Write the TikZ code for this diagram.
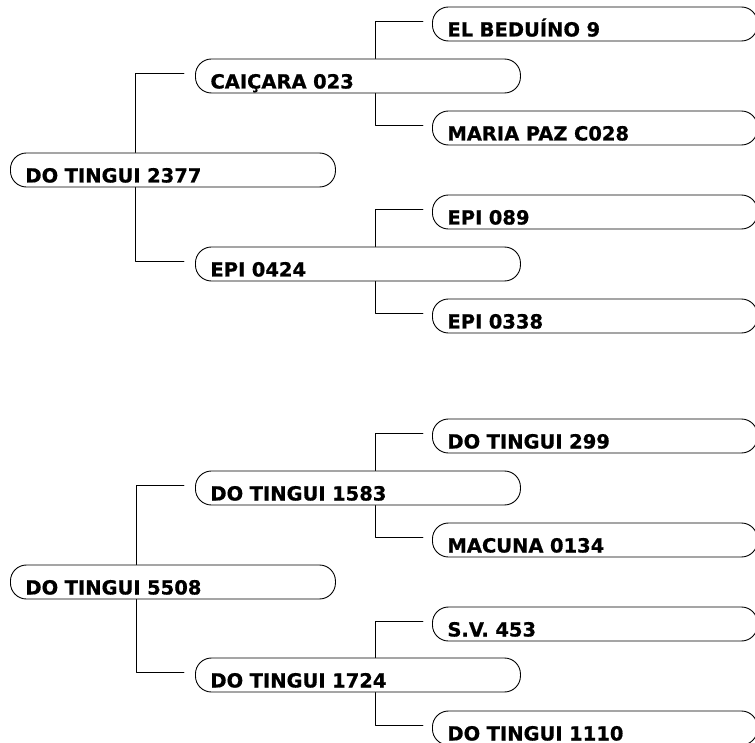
\documentclass[tikz,border=0pt]{standalone}
\usepackage{fontspec}
\setmainfont{DejaVu Sans}[BoldFeatures={FakeBold=0.7}]
\begin{document}
\begin{tikzpicture}[x=1pt,y=-1pt, line join=round, line cap=round,
	animal/.style={draw, line width=0.9pt, rounded corners=16pt, anchor=west,
		font=\fontsize{19.5}{22}\selectfont\bfseries, text width=295pt, align=left,
		inner xsep=15pt, inner ysep=0pt, text height=29.5pt, text depth=4.5pt},
	linha/.style={line width=0.8pt}]
	%	\draw[help lines,step=50pt] (0,0) grid (755,743);
	\useasboundingbox (0,0) rectangle (755,743);
	% primeiro pedigree
	\node[animal] (paiA) at (10,170) {DO TINGUI 2377};
	\node[animal] (avoA1) at (195,76) {CAIÇARA 023};
	\node[animal] (avoA2) at (195,264) {EPI 0424};
	\node[animal] (bisA1) at (432,24) {EL BEDUÍNO 9};
	\node[animal] (bisA2) at (432,128) {MARIA PAZ C028};
	\node[animal] (bisA3) at (432,212) {EPI 089};
	\node[animal] (bisA4) at (432,316) {EPI 0338};
	\draw[linha] (paiA.north -| 135,0) |- ([xshift=-11pt,yshift=3pt]avoA1.west);
	\draw[linha] (paiA.south -| 135,0) |- ([xshift=-11pt,yshift=3pt]avoA2.west);
	\draw[linha] (avoA1.north -| 375,0) |- ([xshift=-9pt,yshift=3pt]bisA1.west);
	\draw[linha] (avoA1.south -| 375,0) |- ([xshift=-9pt,yshift=3pt]bisA2.west);
	\draw[linha] (avoA2.north -| 375,0) |- ([xshift=-9pt,yshift=3pt]bisA3.west);
	\draw[linha] (avoA2.south -| 375,0) |- ([xshift=-9pt,yshift=3pt]bisA4.west);
	% segundo pedigree
	\node[animal] (paiB) at (10,582) {DO TINGUI 5508};
	\node[animal] (avoB1) at (195,488) {DO TINGUI 1583};
	\node[animal] (avoB2) at (195,675) {DO TINGUI 1724};
	\node[animal] (bisB1) at (432,436) {DO TINGUI 299};
	\node[animal] (bisB2) at (432,540) {MACUNA 0134};
	\node[animal] (bisB3) at (432,624) {S.V. 453};
	\node[animal] (bisB4) at (432,728) {DO TINGUI 1110};
	\draw[linha] (paiB.north -| 136,0) |- ([xshift=-11pt,yshift=3pt]avoB1.west);
	\draw[linha] (paiB.south -| 136,0) |- ([xshift=-11pt,yshift=3pt]avoB2.west);
	\draw[linha] (avoB1.north -| 375,0) |- ([xshift=-9pt,yshift=3pt]bisB1.west);
	\draw[linha] (avoB1.south -| 375,0) |- ([xshift=-9pt,yshift=3pt]bisB2.west);
	\draw[linha] (avoB2.north -| 375,0) |- ([xshift=-9pt,yshift=3pt]bisB3.west);
	\draw[linha] (avoB2.south -| 375,0) |- ([xshift=-9pt,yshift=3pt]bisB4.west);
\end{tikzpicture}
\end{document}
